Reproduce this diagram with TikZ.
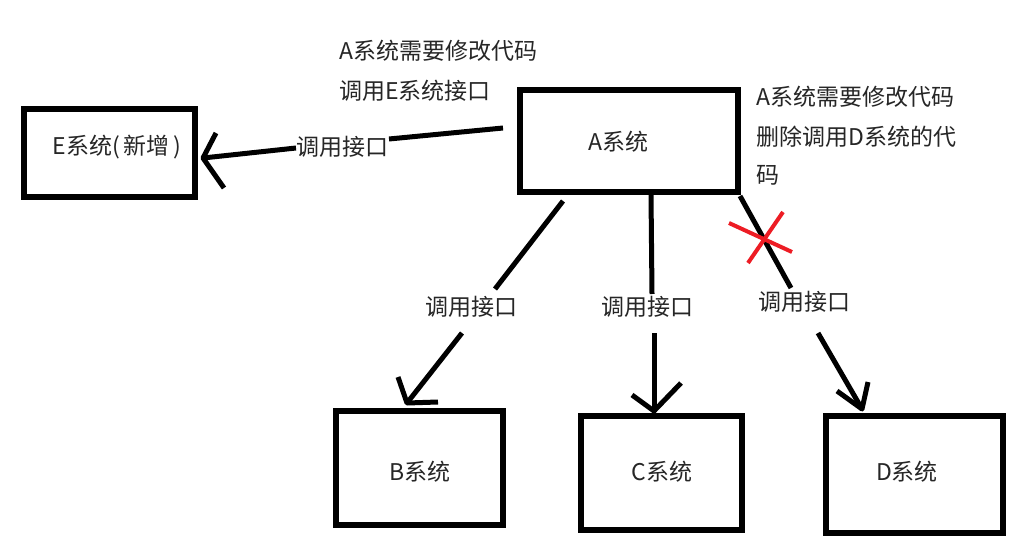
\documentclass[tikz,border=0pt]{standalone}
\usepackage{fontspec}
\newfontfamily\cjk{Noto Sans CJK SC}
\definecolor{xred}{RGB}{237,28,36}
\begin{document}
\begin{tikzpicture}[x=1pt,y=-1pt,
  sysbox/.style={draw=black,line width=5.5pt,inner sep=0pt,outer sep=0pt,fill=white},
  txt/.style={font=\cjk\fontsize{23}{27}\selectfont,inner sep=0pt,text=black!85},
  lbl/.style={txt},
  conn/.style={line width=5pt,line cap=butt,line join=round},
  cross/.style={draw=xred,line width=4pt,line cap=butt}]
\useasboundingbox (0,0) rectangle (1027,546);
\fill[white] (0,0) rectangle (1027,546);

% boxes
\node[sysbox,minimum width=171pt,minimum height=88pt] (E) at (109.5,153) {};
\node[sysbox,minimum width=218pt,minimum height=102pt] (A) at (629,141) {};
\node[sysbox,minimum width=167pt,minimum height=114pt] (B) at (419.5,468) {};
\node[sysbox,minimum width=161pt,minimum height=114pt] (C) at (661.5,473) {};
\node[sysbox,minimum width=177pt,minimum height=117pt] (D) at (914.5,474.5) {};

% box texts
\node[txt] (Et) at (117,147) {E系统(\,新增\,)};
\node[txt] (At) at (618,142) {A系统};
\node[txt] (Bt) at (420,472) {B系统};
\node[txt] (Ct) at (662,472) {C系统};
\node[txt] (Dt) at (907,472) {D系统};

% notes
\node[txt,anchor=west] (n1) at (339,51) {A系统需要修改代码};
\node[txt,anchor=west] (n2) at (339,91) {调用E系统接口};
\node[txt,anchor=west] (n3) at (756,97) {A系统需要修改代码};
\node[txt,anchor=west] (n4) at (756,137) {删除调用D系统的代};
\node[txt,anchor=west] (n5) at (756,175) {码};

% edge labels
\node[lbl] (LE) at (342,147) {调用接口};
\node[lbl] (LB) at (471,307) {调用接口};
\node[lbl] (LC) at (647,307) {调用接口};
\node[lbl] (LD) at (804,302) {调用接口};

% connector points
\coordinate (sE) at (503,128);  \coordinate (mE1) at (389,139);
\coordinate (mE2) at (296,148); \coordinate (tE) at (203,158);
\coordinate (bE1) at (216,133); \coordinate (bE2) at (224,188);

\coordinate (sB) at (563,201);  \coordinate (mB1) at (495,289);
\coordinate (mB2) at (462,333); \coordinate (tB) at (407,403);
\coordinate (bB1) at (398,377); \coordinate (bB2) at (438,402);

\coordinate (sC) at (651,195);  \coordinate (mC1) at (652,294);
\coordinate (mC2) at (654,333); \coordinate (tC) at (654,411);
\coordinate (bC1) at (632,395); \coordinate (bC2) at (681,383);

\coordinate (sD) at (740,196);  \coordinate (mD1) at (791,288);
\coordinate (mD2) at (818,333); \coordinate (tD) at (862,409);
\coordinate (bD1) at (837,391); \coordinate (bD2) at (868,382);

% connectors
\draw[conn] (sE) -- (mE1);
\draw[conn] (mE2) -- (tE);
\draw[conn] (bE1) -- (tE) -- (bE2);

\draw[conn] (sB) -- (mB1);
\draw[conn] (mB2) -- (tB);
\draw[conn] (bB1) -- (tB) -- (bB2);

\draw[conn] (sC) -- (mC1);
\draw[conn] (mC2) -- (tC);
\draw[conn] (bC1) -- (tC) -- (bC2);

\draw[conn] (sD) -- (mD1);
\draw[conn] (mD2) -- (tD);
\draw[conn] (bD1) -- (tD) -- (bD2);

% red cross
\coordinate (x1a) at (729,223); \coordinate (x1b) at (792,252);
\coordinate (x2a) at (783,212); \coordinate (x2b) at (748,263);
\draw[cross] (x1a) -- (x1b);
\draw[cross] (x2a) -- (x2b);
\end{tikzpicture}
\end{document}
